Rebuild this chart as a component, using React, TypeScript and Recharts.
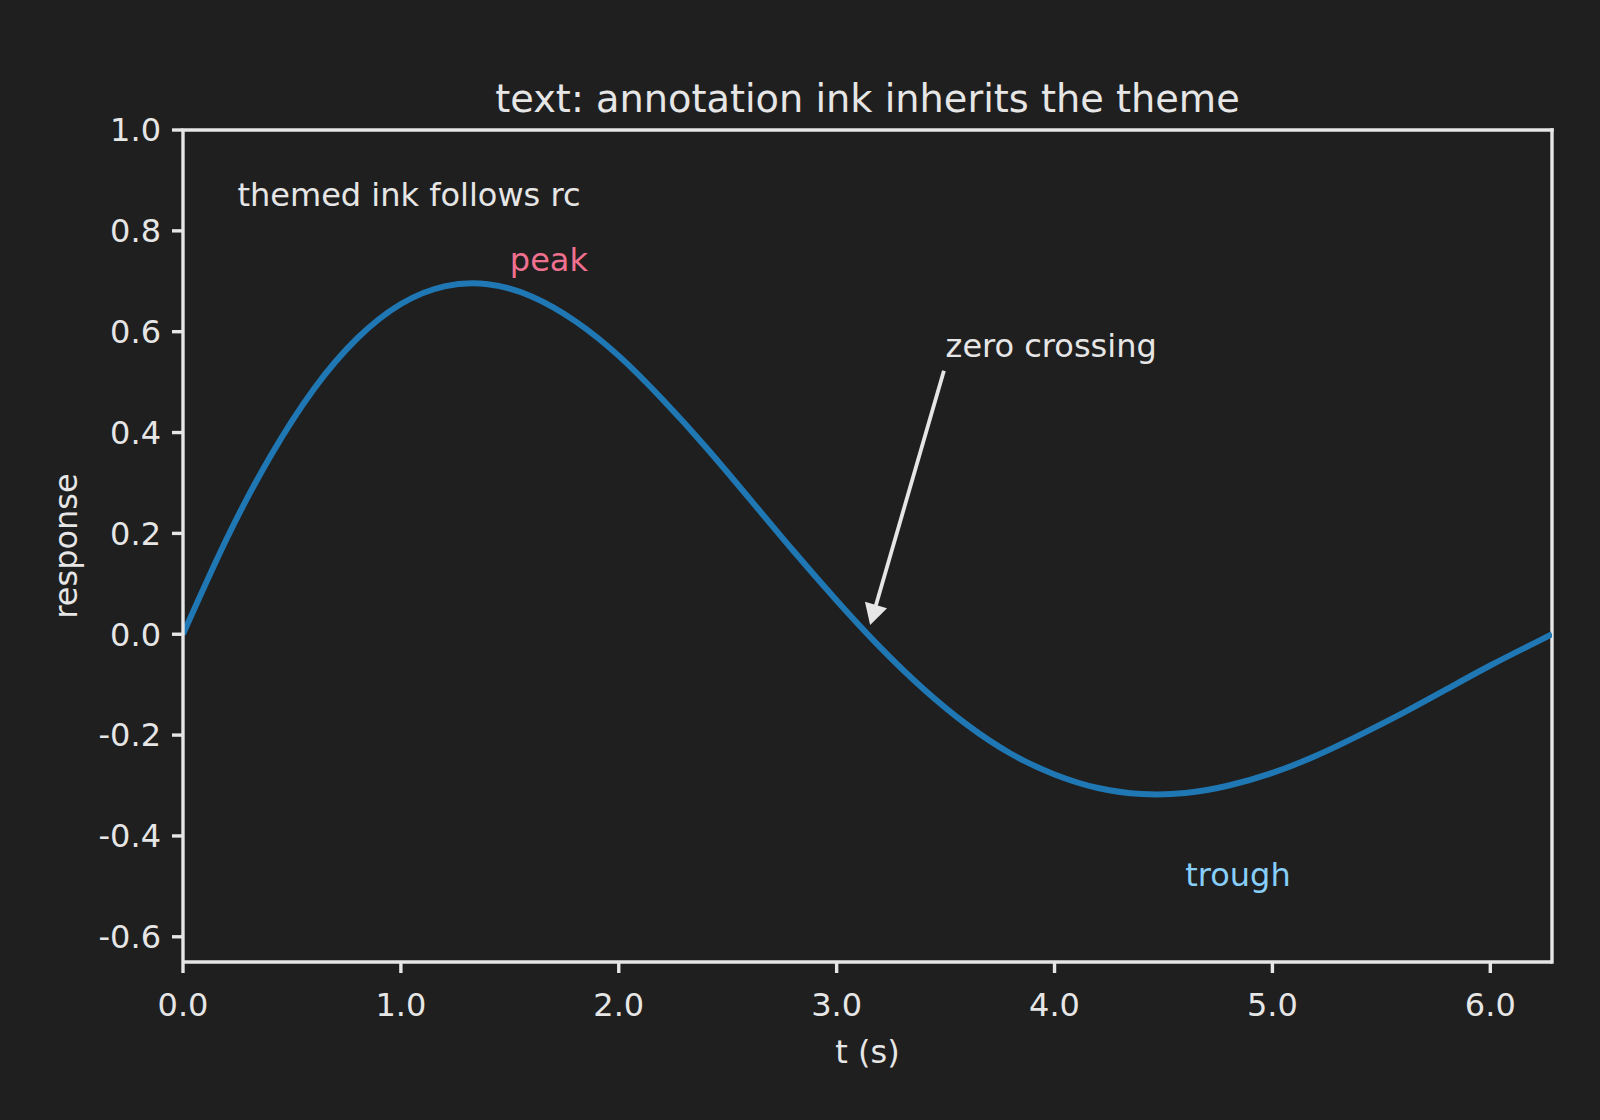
import React from 'react';
import {
  LineChart,
  Line,
  XAxis,
  YAxis,
  ReferenceLine,
  ReferenceDot,
  Label,
} from 'recharts';

// Sampled damped response, t in seconds
const tValues = [
  0, 0.2, 0.4, 0.6, 0.8, 1.0, 1.2, 1.4, 1.6, 1.8, 2.0, 2.2, 2.4, 2.6, 2.8, 3.0,
  3.2, 3.4, 3.6, 3.8, 4.0, 4.2, 4.4, 4.6, 4.8, 5.0, 5.2, 5.4, 5.6, 5.8, 6.0, 6.2,
  6.2832,
];
const responseValues = [
  0, 0.189, 0.352, 0.486, 0.587, 0.655, 0.69, 0.694, 0.67, 0.621, 0.552, 0.466,
  0.371, 0.269, 0.166, 0.067, -0.026, -0.109, -0.18, -0.237, -0.278, -0.305,
  -0.317, -0.315, -0.3, -0.275, -0.241, -0.2, -0.156, -0.109, -0.062, -0.018, 0,
];

const xTicks = [0, 1, 2, 3, 4, 5, 6];
const yTicks = [-0.6, -0.4, -0.2, 0, 0.2, 0.4, 0.6, 0.8, 1.0];
const X_MAX = 6.2832;
const Y_MIN = -0.65;
const Y_MAX = 1.0;

const TITLE = 'text: annotation ink inherits the theme';
const X_LABEL = 't (s)';
const Y_LABEL = 'response';

// Text annotations in data coordinates
const noteText = { t: 0.25, v: 0.85, text: 'themed ink follows rc' };
const peakNote = { t: 1.5, v: 0.72, text: 'peak' };
const troughNote = { t: 4.6, v: -0.5, text: 'trough' };
const zeroNote = { t: 3.5, v: 0.55, text: 'zero crossing' };
const zeroPoint = { t: 3.1416, v: 0 };

const data = tValues.map((t, i) => ({ t, v: responseValues[i] }));

const BG = '#1f1f1f';
const INK = '#e6e6e6';
const FONT = '"DejaVu Sans", Verdana, sans-serif';
const LINE_COLOR = '#1f77b4';

const textShape = (text: string, color: string) => (props: any) => (
  <text
    x={props.cx}
    y={props.cy}
    fill={color}
    fontSize={32}
    fontFamily={FONT}
    textAnchor="start"
  >
    {text}
  </text>
);

// Annotation arrow: from the lower-left corner of the label box to the target
const ArrowShape = (props: any) => {
  const { x1, y1, x2, y2 } = props;
  const sx = x1;
  const sy = y1 + 8;
  const dx = x2 - sx;
  const dy = y2 - sy;
  const len = Math.hypot(dx, dy) || 1;
  const ux = dx / len;
  const uy = dy / len;
  const nx = -uy;
  const ny = ux;
  const startX = sx + ux * 6;
  const startY = sy + uy * 6;
  const tipX = x2 - ux * 9.5;
  const tipY = y2 - uy * 9.5;
  const headLen = 21;
  const headHalf = 11.5;
  const baseX = tipX - ux * headLen;
  const baseY = tipY - uy * headLen;
  return (
    <g>
      <line
        x1={startX}
        y1={startY}
        x2={baseX + ux * 1}
        y2={baseY + uy * 1}
        stroke={INK}
        strokeWidth={3.8}
      />
      <polygon
        points={`${tipX},${tipY} ${baseX + nx * headHalf},${baseY + ny * headHalf} ${baseX - nx * headHalf},${baseY - ny * headHalf}`}
        fill={INK}
      />
    </g>
  );
};

const XAxisTitle = (props: any) => {
  const { x, y, width } = props.viewBox;
  return (
    <text
      x={x + width / 2}
      y={y + 101}
      fill={INK}
      fontSize={32}
      fontFamily={FONT}
      textAnchor="middle"
    >
      {X_LABEL}
    </text>
  );
};

const YAxisTitle = (props: any) => {
  const { y, height } = props.viewBox;
  const cx = 77;
  const cy = y + height / 2;
  return (
    <text
      x={cx}
      y={cy}
      fill={INK}
      fontSize={32}
      fontFamily={FONT}
      textAnchor="middle"
      transform={`rotate(-90, ${cx}, ${cy})`}
    >
      {Y_LABEL}
    </text>
  );
};

const tickStyle = { fill: INK, fontSize: 32, fontFamily: FONT };
const spine = { stroke: INK, strokeWidth: 3.4 };

export default function App() {
  return (
    <div
      style={{
        position: 'absolute',
        left: 0,
        top: 0,
        width: 1600,
        height: 1120,
        background: BG,
        overflow: 'hidden',
      }}
    >
      <svg
        width={1600}
        height={130}
        style={{ position: 'absolute', left: 0, top: 0 }}
      >
        <text
          x={867.5}
          y={111.7}
          fill={INK}
          fontSize={38.3}
          fontFamily={FONT}
          textAnchor="middle"
        >
          {TITLE}
        </text>
      </svg>
      <div style={{ position: 'absolute', left: 0, top: 0 }}>
        <LineChart
          width={1600}
          height={1120}
          data={data}
          margin={{ top: 130, right: 48, bottom: 58, left: 0 }}
        >
          <XAxis
            dataKey="t"
            type="number"
            domain={[0, X_MAX]}
            allowDataOverflow
            ticks={xTicks}
            interval={0}
            tickFormatter={(v: number) => v.toFixed(1)}
            tick={tickStyle}
            tickSize={11}
            tickMargin={20}
            tickLine={spine}
            axisLine={spine}
            height={100}
          >
            <Label content={XAxisTitle} />
          </XAxis>
          <YAxis
            type="number"
            domain={[Y_MIN, Y_MAX]}
            allowDataOverflow
            ticks={yTicks}
            interval={0}
            tickFormatter={(v: number) => v.toFixed(1)}
            tick={tickStyle}
            tickSize={11}
            tickMargin={11}
            tickLine={spine}
            axisLine={spine}
            width={183}
          >
            <Label content={YAxisTitle} />
          </YAxis>
          <ReferenceLine y={Y_MAX} stroke={INK} strokeWidth={3.4} strokeLinecap="square" />
          <ReferenceLine x={X_MAX} stroke={INK} strokeWidth={3.4} strokeLinecap="square" />
          <Line
            type="natural"
            dataKey="v"
            stroke={LINE_COLOR}
            strokeWidth={6}
            dot={false}
            activeDot={false}
            isAnimationActive={false}
          />
          <ReferenceDot
            x={noteText.t}
            y={noteText.v}
            r={0}
            shape={textShape(noteText.text, INK)}
          />
          <ReferenceDot
            x={peakNote.t}
            y={peakNote.v}
            r={0}
            shape={textShape(peakNote.text, '#f0708f')}
          />
          <ReferenceDot
            x={troughNote.t}
            y={troughNote.v}
            r={0}
            shape={textShape(troughNote.text, '#87cefa')}
          />
          <ReferenceDot
            x={zeroNote.t}
            y={zeroNote.v}
            r={0}
            shape={textShape(zeroNote.text, INK)}
          />
          <ReferenceLine
            segment={[
              { x: zeroNote.t, y: zeroNote.v },
              { x: zeroPoint.t, y: zeroPoint.v },
            ]}
            shape={ArrowShape}
          />
        </LineChart>
      </div>
    </div>
  );
}
